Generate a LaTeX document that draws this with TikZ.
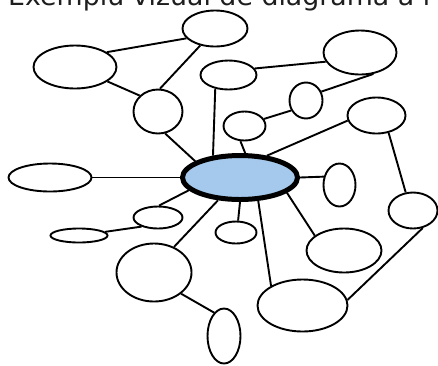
\documentclass[tikz,border=0pt]{standalone}
\usepackage{fontspec}
\setmainfont{DejaVu Sans}
\usetikzlibrary{shapes.geometric}
\definecolor{hubblue}{RGB}{164,201,236}
\definecolor{titlegray}{RGB}{30,30,30}
\tikzset{
  bubble/.style={ellipse, draw=black, line width=1.9pt, fill=white, inner sep=0pt,
    minimum width=#1},
  hub/.style={ellipse, draw=black, line width=5pt, fill=hubblue, inner sep=0pt,
    minimum width=115pt, minimum height=44pt},
  link/.style={draw=black, line width=1.9pt}
}
\begin{document}
\begin{tikzpicture}[x=1pt,y=-1pt]
  \useasboundingbox (0,0) rectangle (438,365);
  \clip (0,0) rectangle (438,365);

  % heading, cut by the top and right edges
  \node[anchor=base west, inner sep=0pt, text=titlegray, font=\fontsize{26.8}{30}\selectfont]
    (title) at (8,5) {Exemplu vizual de diagrama a r};

  % central hub and the bubbles around it
  \node[hub] (hub) at (240,177.5) {};
  \node[bubble=83pt, minimum height=43pt] (A) at (75,67) {};
  \node[bubble=65pt, minimum height=36pt] (D) at (215,28.5) {};
  \node[bubble=49pt, minimum height=44pt] (B) at (158,111.5) {};
  \node[bubble=83pt, minimum height=28pt] (C) at (50,177.5) {};
  \node[bubble=56pt, minimum height=29pt] (F) at (228.5,75) {};
  \node[bubble=73pt, minimum height=44pt] (E) at (360,52.5) {};
  \node[bubble=33pt, minimum height=36pt] (G) at (306,100.5) {};
  \node[bubble=42pt, minimum height=29pt] (H) at (244.5,126) {};
  \node[bubble=58pt, minimum height=36pt] (I) at (376.5,115.5) {};
  \node[bubble=32pt, minimum height=43pt] (J) at (339.5,185) {};
  \node[bubble=49pt, minimum height=36pt] (K) at (413,210.5) {};
  \node[bubble=49pt, minimum height=22pt] (L) at (158,217.5) {};
  \node[bubble=57pt, minimum height=14pt] (M) at (79,235.5) {};
  \node[bubble=75pt, minimum height=58pt] (N) at (154,272.5) {};
  \node[bubble=33pt, minimum height=55pt] (O) at (224,336) {};
  \node[bubble=41pt, minimum height=22pt] (P) at (236,232.5) {};
  \node[bubble=75pt, minimum height=44pt] (Q) at (344,250.5) {};
  \node[bubble=90pt, minimum height=52pt] (R) at (302.5,305.5) {};

  % links between bubbles
  \path[link] (A.25) -- (D.199);
  \path[link] (A.336) -- (B.139);
  \path[link] (D.229) -- (B.85);
  \path[link] (B.288) -- (hub.160);
  \path[link] (C.0) -- (hub.180);
  \path[link] (F.226) -- (hub.141);
  \path[link] (F.14) -- (E.195);
  \path[link] (E.302) -- (G.30);
  \path[link] (G.214) -- (H.20);
  \path[link] (H.255) -- (hub.78);
  \path[link] (I.190) -- (hub.39);
  \path[link] (I.305) -- (K.112);
  \path[link] (hub.0) -- (J.152);
  \path[link] (hub.194) -- (L.85);
  \path[link] (L.209) -- (M.8);
  \path[link] (hub.226) -- (N.52);
  \path[link] (N.322) -- (O.113);
  \path[link] (hub.270) -- (P.80);
  \path[link] (hub.308) -- (R.148);
  \path[link] (hub.342) -- (Q.153);
  \path[link] (R.7) -- (K.299);
\end{tikzpicture}
\end{document}
